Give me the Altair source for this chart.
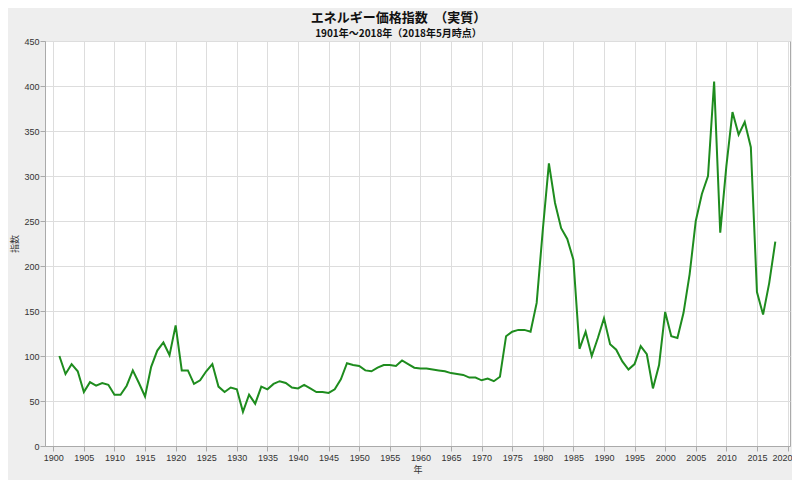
import altair as alt
import pandas as pd

years = list(range(1901, 2019))
index_values = [
    100, 80, 91, 83, 60, 71, 67, 70, 68, 57,   # 1901-1910
    57, 67, 84, 70, 55, 88, 106, 115, 101, 134,  # 1911-1920
    84, 84, 69, 73, 83, 91, 66, 60, 65, 63,    # 1921-1930
    38, 57, 47, 66, 63, 69, 72, 70, 65, 64,    # 1931-1940
    68, 64, 60, 60, 59, 63, 74, 92, 90, 89,    # 1941-1950
    84, 83, 87, 90, 90, 89, 95, 91, 87, 86,    # 1951-1960
    86, 85, 84, 83, 81, 80, 79, 76, 76, 73,    # 1961-1970
    75, 72, 77, 122, 127, 129, 129, 127, 159, 240,  # 1971-1980
    314, 270, 242, 230, 207, 108, 127, 100, 120, 142,  # 1981-1990
    113, 107, 94, 85, 91, 111, 102, 64, 90, 149,  # 1991-2000
    122, 120, 148, 191, 250, 280, 300, 405, 237, 311,  # 2001-2010
    371, 346, 360, 332, 171, 146, 181, 227,  # 2011-2018
]
x_ticks = list(range(1900, 2021, 5))
y_ticks = list(range(0, 451, 50))

df = pd.DataFrame({"year": years, "value": index_values})

axis_common = dict(
    labelFont="Liberation Sans",
    labelFontSize=9,
    labelColor="#333333",
    titleFont="Noto Sans CJK JP",
    titleFontSize=9,
    titleFontWeight="normal",
    titleColor="#333333",
    gridColor="#dddddd",
    domainColor="#aaaaaa",
    tickColor="#aaaaaa",
    tickSize=5,
)

chart = (
    alt.Chart(df)
    .mark_line(color="#1e8c1e", strokeWidth=2)
    .encode(
        x=alt.X(
            "year:Q",
            title="年",
            scale=alt.Scale(domain=[1898.65, 2020.4], nice=False, zero=False),
            axis=alt.Axis(values=x_ticks, format="d", labelPadding=2, titlePadding=3,
                          labelFlush=4, labelFlushOffset=4.5, **axis_common),
        ),
        y=alt.Y(
            "value:Q",
            title="指数",
            scale=alt.Scale(domain=[0, 450], nice=False),
            axis=alt.Axis(values=y_ticks, labelPadding=1, titlePadding=4, **axis_common),
        ),
    )
    .properties(
        width=745,
        height=405,
        autosize=alt.AutoSizeParams(type="none"),
        padding={"left": 37, "top": 33, "right": 2, "bottom": 34},
        background="#eeeeee",
        title=alt.TitleParams(
            text="エネルギー価格指数　（実質）",
            subtitle="1901年～2018年（2018年5月時点）",
            font="Noto Sans CJK JP",
            fontSize=13,
            fontWeight="bold",
            color="#111111",
            subtitleFont="Noto Sans CJK JP",
            subtitleFontSize=10,
            subtitleFontWeight="bold",
            subtitleColor="#111111",
            subtitlePadding=4,
            anchor="middle",
            dx=-19,
            offset=-2,
        ),
    )
    .configure_view(fill="white", stroke="#aaaaaa", strokeWidth=1)
)

chart.save("out.html", embed_options={"renderer": "svg", "actions": False})
